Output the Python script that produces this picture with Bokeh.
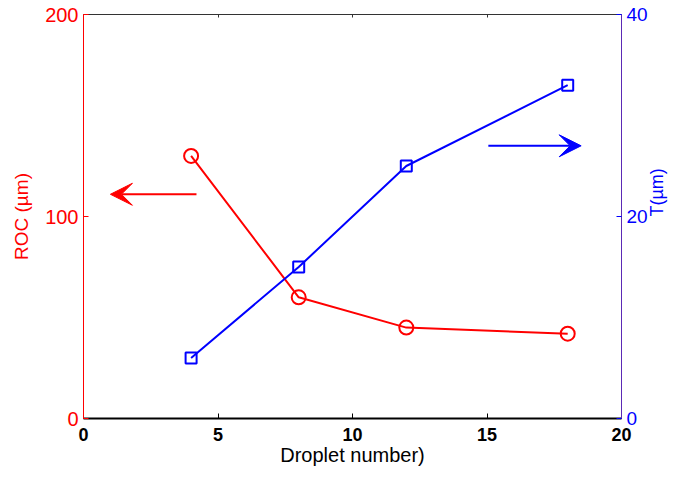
import math
from bokeh.plotting import figure
from bokeh.models import Range1d, LinearAxis, Arrow, VeeHead, FixedTicker, ColumnDataSource
from bokeh.embed import file_html
from bokeh.resources import INLINE

# ---- data ----
droplet = [4, 8, 12, 18]
roc = [130, 60, 45, 42]
thickness = [6, 15, 25, 33]
x_ticks = [0, 5, 10, 15, 20]
left_ticks = [0, 100, 200]
right_ticks = [0, 20, 40]
roc_arrow_x = [4.2, 1.0]
roc_arrow_y = 111
t_arrow_x = [15.05, 18.5]
t_arrow_y = 27

RED = "#FF0000"
BLUE = "#0000FF"
FONT = "Liberation Sans"

p = figure(width=679, height=477, x_range=Range1d(0, 20), y_range=Range1d(0, 200),
           output_backend="svg", toolbar_location=None,
           x_axis_location=None, y_axis_location=None,
           min_border_left=83, min_border_right=57, min_border_top=14, min_border_bottom=59)
p.extra_y_ranges = {"right": Range1d(0, 40)}
p.grid.visible = False
p.outline_line_color = None
p.background_fill_color = "white"
p.border_fill_color = "white"

def style(ax, color, size, bold=False):
    ax.axis_line_color = color
    ax.major_tick_line_color = color
    ax.major_tick_in = 5
    ax.major_tick_out = 0
    ax.minor_tick_line_color = None
    ax.major_label_text_color = color
    ax.major_label_text_font = FONT
    ax.major_label_text_font_size = size
    ax.major_label_text_font_style = "bold" if bold else "normal"
    ax.axis_label_text_font = FONT
    ax.axis_label_text_font_style = "normal"

# bottom axis
xb = LinearAxis(ticker=FixedTicker(ticks=x_ticks), axis_label="Droplet number)")
style(xb, "black", "18px", bold=True)
xb.axis_line_width = 2
xb.major_label_standoff = 9
xb.axis_label_standoff = 0
xb.axis_label_text_font_size = "20px"
xb.axis_label_text_color = "black"
p.add_layout(xb, "below")

# top axis (ticks only)
xt = LinearAxis(ticker=FixedTicker(ticks=x_ticks))
style(xt, "#333333", "0px")
xt.major_tick_in = 3
xt.major_label_standoff = 0
xt.major_label_text_alpha = 0
p.add_layout(xt, "above")

# left axis
yl = LinearAxis(ticker=FixedTicker(ticks=left_ticks), axis_label="ROC (µm)")
style(yl, RED, "20px")
yl.major_label_standoff = 5
yl.axis_label_standoff = 10
yl.axis_label_text_font_size = "19px"
yl.axis_label_text_color = RED
p.add_layout(yl, "left")

# right axis
yr = LinearAxis(y_range_name="right", ticker=FixedTicker(ticks=right_ticks), axis_label="T(µm)")
style(yr, BLUE, "19px")
yr.axis_line_color = "#5B2AB5"
yr.major_label_standoff = 5
yr.axis_label_standoff = 6
yr.axis_label_text_font_size = "18px"
yr.axis_label_text_color = BLUE
yr.axis_label_orientation = math.pi / 2
p.add_layout(yr, "right")

src = ColumnDataSource(dict(x=droplet, roc=roc, t=thickness))

p.line("x", "roc", source=src, line_color=RED, line_width=2)
p.scatter("x", "roc", source=src, marker="circle", size=14, fill_color=None,
          line_color=RED, line_width=2)

p.line("x", "t", source=src, line_color=BLUE, line_width=2, y_range_name="right")
p.scatter("x", "t", source=src, marker="square", size=11, fill_color=None,
          line_color=BLUE, line_width=2, y_range_name="right")

p.add_layout(Arrow(x_start=roc_arrow_x[0], x_end=roc_arrow_x[1], y_start=roc_arrow_y, y_end=roc_arrow_y,
                   line_color=RED, line_width=2,
                   end=VeeHead(size=22, fill_color=RED, line_color=RED, line_width=1)))
p.add_layout(Arrow(x_start=t_arrow_x[0], x_end=t_arrow_x[1], y_start=t_arrow_y, y_end=t_arrow_y,
                   y_range_name="right", line_color=BLUE, line_width=2,
                   end=VeeHead(size=22, fill_color=BLUE, line_color=BLUE, line_width=1)))

open("out.html", "w").write(file_html(p, INLINE))
